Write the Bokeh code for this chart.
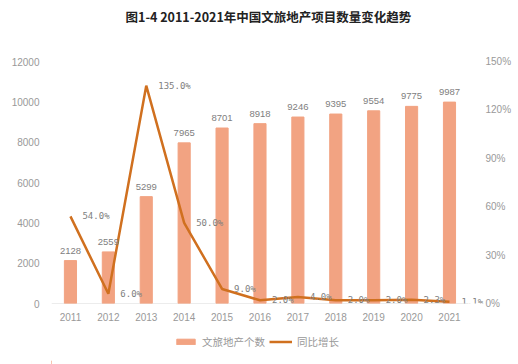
from bokeh.plotting import figure
from bokeh.layouts import column
from bokeh.models import (ColumnDataSource, Range1d, LinearAxis, FixedTicker,
                          PrintfTickFormatter, Legend, LegendItem, Title)
from bokeh.embed import file_html
from bokeh.resources import INLINE
from bokeh.core.properties import value

years = ["2011", "2012", "2013", "2014", "2015", "2016", "2017", "2018", "2019", "2020", "2021"]
counts = [2128, 2559, 5299, 7965, 8701, 8918, 9246, 9395, 9554, 9775, 9987]
growth = [54.0, 6.0, 135.0, 50.0, 9.0, 2.0, 4.0, 2.0, 2.0, 2.3, 1.1]
left_ticks = [0, 2000, 4000, 6000, 8000, 10000, 12000]
right_ticks = [0, 30, 60, 90, 120, 150]

BAR = "#F2A382"
LINE = "#D0701F"
FONT = "Noto Sans CJK SC"
N = len(years)
idx = list(range(N))

src = ColumnDataSource(dict(
    x=idx, c=counts, g=growth,
    clab=[str(v) for v in counts],
    glab=["%.1f%%" % v for v in growth],
))

p = figure(x_range=Range1d(-0.5, N - 0.05), y_range=Range1d(0, 12000),
           width=518, height=328,
           min_border_left=51, min_border_right=33,
           min_border_top=61, min_border_bottom=25,
           output_backend="svg", toolbar_location=None)
p.title = Title(text="图1-4 2011-2021年中国文旅地产项目数量变化趋势",
                align="left", offset=74, text_font_size="12.5px", text_font=FONT,
                text_font_style="bold", text_color="#222222", standoff=0)
p.add_layout(Title(text=" ", text_font_size="10px", standoff=23), "above")
p.outline_line_color = None
p.grid.grid_line_color = None
p.extra_y_ranges = {"pct": Range1d(0, 150)}

# baseline
p.segment(x0=[idx[0] - 0.5], x1=[idx[-1] + 0.5], y0=[0], y1=[0],
          line_color="#d9d9d9", line_width=1)

bars = p.vbar(x="x", top="c", width=0.32, color=BAR, source=src)
line = p.line(x="x", y="g", y_range_name="pct", line_color=LINE, line_width=2.5, source=src)

p.text(x="x", y="c", text="clab", source=src, text_align="center",
       text_baseline="bottom", y_offset=-7, text_font_size="9.5px",
       text_color="#808080", text_font=value("Liberation Sans"))
p.text(x="x", y="g", text="glab", y_range_name="pct", source=src,
       text_align="left", text_baseline="middle", x_offset=12,
       text_font_size="9px", text_color="#808080",
       text_font=value("DejaVu Sans Mono"))

xa = p.xaxis[0]
xa.ticker = FixedTicker(ticks=idx)
xa.major_label_overrides = {i: y for i, y in zip(idx, years)}
xa.axis_line_color = None
xa.major_label_standoff = 3
ya = p.yaxis[0]
ya.ticker = FixedTicker(ticks=left_ticks)
ya.axis_line_color = None
ya.major_label_standoff = 6
for ax in [xa, ya]:
    ax.major_tick_line_color = None
    ax.minor_tick_line_color = None
    ax.major_label_text_color = "#999999"
    ax.major_label_text_font_size = "10px"
    ax.major_label_text_font = "Liberation Sans"

ra = LinearAxis(y_range_name="pct", ticker=FixedTicker(ticks=right_ticks),
                formatter=PrintfTickFormatter(format="%d%%"))
ra.axis_line_color = None
ra.major_tick_line_color = None
ra.minor_tick_line_color = None
ra.major_tick_in = 0
ra.major_tick_out = -8
ra.major_label_text_color = "#999999"
ra.major_label_text_font_size = "10px"
ra.major_label_text_font = "Liberation Sans"
ra.major_label_standoff = 0
p.add_layout(ra, "right")

# legend strip
lg = figure(width=518, height=36, x_range=Range1d(0, 10), y_range=Range1d(0, 10),
            min_border=0, output_backend="svg", toolbar_location=None,
            x_axis_type=None, y_axis_type=None)
lg.outline_line_color = None
lg.grid.grid_line_color = None
lb = lg.vbar(x=[-50], top=[1], width=0.32, color=BAR)
ll = lg.line(x=[-50, -49], y=[1, 1], line_color=LINE, line_width=2.5)
legend = Legend(items=[LegendItem(label="文旅地产个数", renderers=[lb]),
                       LegendItem(label="同比增长", renderers=[ll])],
                orientation="horizontal", location=(123, 15),
                glyph_width=23, glyph_height=7, label_text_font_size="10.5px",
                label_text_font=FONT, label_text_color="#999999",
                border_line_color=None, background_fill_alpha=0,
                spacing=4, padding=0, margin=0, label_standoff=5)
lg.add_layout(legend, "center")

open("out.html", "w").write(file_html(column(p, lg, spacing=0), INLINE))
